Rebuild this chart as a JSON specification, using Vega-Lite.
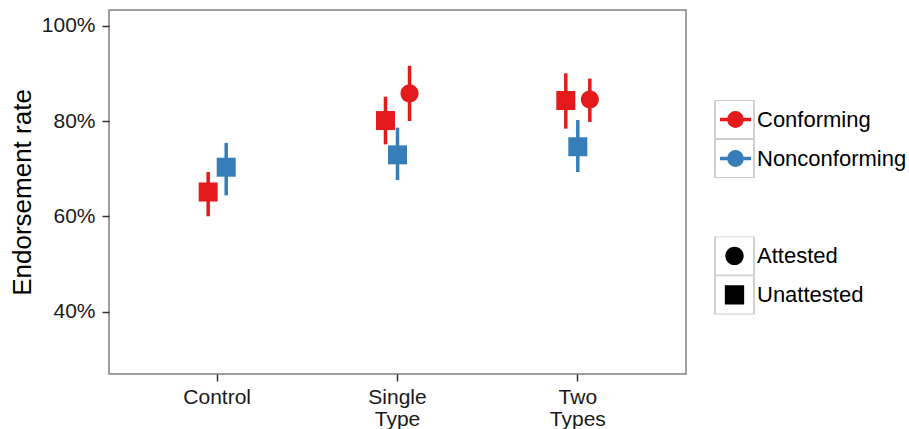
{
  "$schema": "https://vega.github.io/schema/vega-lite/v6.json",
  "width": 577,
  "height": 364,
  "autosize": {"type": "none"},
  "padding": {"left": 109, "top": 10, "right": 223, "bottom": 55},
  "background": "white",
  "config": {
    "font": "Liberation Sans",
    "view": {"stroke": "#7f7f7f", "strokeWidth": 1.5},
    "axis": {
      "grid": false,
      "domain": false,
      "tickColor": "#333333",
      "tickWidth": 1.5,
      "tickSize": 7,
      "labelFont": "Liberation Sans",
      "labelFontSize": 21,
      "labelColor": "#1a1a1a",
      "titleFont": "Liberation Sans",
      "titleFontSize": 26,
      "titleFontWeight": "normal",
      "titleColor": "black"
    },
    "legend": {"padding": 0, "rowPadding": 0, "clipHeight": 39, "labelFont": "Liberation Sans", "labelFontSize": 22, "labelColor": "black", "labelOffset": 5}
  },
  "data": {
    "values": [
      {"cond": "Control", "conf": "Conforming", "attest": "Unattested", "grp": "Conforming Unattested", "rate": 0.651, "lo": 0.600, "hi": 0.693},
      {"cond": "Control", "conf": "Nonconforming", "attest": "Unattested", "grp": "Nonconforming Unattested", "rate": 0.703, "lo": 0.644, "hi": 0.754},
      {"cond": "Single Type", "conf": "Conforming", "attest": "Unattested", "grp": "Conforming Unattested", "rate": 0.801, "lo": 0.751, "hi": 0.851},
      {"cond": "Single Type", "conf": "Nonconforming", "attest": "Unattested", "grp": "Nonconforming Unattested", "rate": 0.729, "lo": 0.676, "hi": 0.786},
      {"cond": "Single Type", "conf": "Conforming", "attest": "Attested", "grp": "Conforming Attested", "rate": 0.858, "lo": 0.800, "hi": 0.916},
      {"cond": "Two Types", "conf": "Conforming", "attest": "Unattested", "grp": "Conforming Unattested", "rate": 0.843, "lo": 0.784, "hi": 0.900},
      {"cond": "Two Types", "conf": "Nonconforming", "attest": "Unattested", "grp": "Nonconforming Unattested", "rate": 0.746, "lo": 0.693, "hi": 0.802},
      {"cond": "Two Types", "conf": "Conforming", "attest": "Attested", "grp": "Conforming Attested", "rate": 0.845, "lo": 0.798, "hi": 0.889}
    ]
  },
  "encoding": {
    "x": {
      "field": "cond",
      "type": "nominal",
      "scale": {"domain": ["Control", "Single Type", "Two Types"], "paddingInner": 0.8, "paddingOuter": 0.5},
      "axis": {"title": null, "labelExpr": "split(datum.label, ' ')", "labelAngle": 0, "labelPadding": 5, "labelLineHeight": 22}
    },
    "color": {
      "field": "conf",
      "type": "nominal",
      "scale": {"domain": ["Conforming", "Nonconforming"], "range": ["#E41A1C", "#377EB8"]},
      "legend": {
        "title": null,
        "orient": "none",
        "legendX": 605,
        "legendY": 90,
        "labelOffset": 0,
        "symbolType": "M -0.956 -0.956 M 0.956 0.956 M -0.795 0 L 0.795 0 M 0.34 0 A 0.34 0.34 0 1 1 -0.34 0 A 0.34 0.34 0 1 1 0.34 0 Z",
        "symbolSize": 1521,
        "symbolStrokeWidth": 3.5,
        "encode": {
          "symbols": {"update": {"fill": {"scale": "color", "field": "value"}, "stroke": {"scale": "color", "field": "value"}, "strokeWidth": {"value": 3.5}, "opacity": {"value": 1}, "size": {"value": 1521}}}
        }
      }
    }
  },
  "layer": [
    {
      "transform": [{"filter": "datum.cond === 'Control'"}],
      "mark": {"type": "rule", "strokeWidth": 3.5},
      "encoding": {
        "xOffset": {"field": "grp", "type": "nominal", "scale": {"type": "band", "domain": ["Conforming Unattested", "Nonconforming Unattested"], "paddingInner": 0, "paddingOuter": 0}},
        "y": {"field": "lo", "type": "quantitative", "scale": {"domain": [0.269, 1.033], "nice": false, "zero": false}, "axis": {"title": "Endorsement rate", "values": [0.4, 0.6, 0.8, 1.0], "format": ".0%", "labelPadding": 7, "titlePadding": 6}},
        "y2": {"field": "hi"},
        "opacity": {"field": "conf", "type": "nominal", "scale": {"type": "ordinal", "domain": ["Nonconforming", "Conforming"], "range": [1, 1]},
          "legend": {
            "title": null, "orient": "none", "legendX": 605, "legendY": 90,
            "symbolType": "square", "symbolSize": 1521, "labelExpr": "''",
            "encode": {"symbols": {"update": {"fill": {"value": "transparent"}, "stroke": {"value": "#cccccc"}, "strokeWidth": {"value": 1.8}, "size": {"value": 1521}, "shape": {"value": "square"}}}}
          }
        }
      }
    },
    {
      "transform": [{"filter": "datum.cond === 'Control'"}],
      "mark": {"type": "point", "filled": true, "opacity": 1, "size": 1473},
      "encoding": {
        "xOffset": {"field": "grp", "type": "nominal", "scale": {"type": "band", "domain": ["Conforming Unattested", "Nonconforming Unattested"], "paddingInner": 0, "paddingOuter": 0}},
        "y": {"field": "rate", "type": "quantitative"},
        "shape": {"field": "attest", "type": "nominal",
          "scale": {"domain": ["Attested", "Unattested"], "range": ["M -1.046 -1.046 M 1.046 1.046 M 0.47 0 A 0.47 0.47 0 1 1 -0.47 0 A 0.47 0.47 0 1 1 0.47 0 Z", "M -1.046 -1.046 M 1.046 1.046 M -0.495 -0.495 L 0.495 -0.495 L 0.495 0.495 L -0.495 0.495 Z"]},
          "legend": {
            "title": null,
            "orient": "none",
            "legendX": 605,
            "legendY": 226.4,
            "labelOffset": 2,
            "symbolSize": 1521,
            "encode": {
              "symbols": {"update": {
                "fill": {"value": "black"},
                "stroke": {"value": "transparent"},
                "strokeWidth": {"value": 0},
                "opacity": {"value": 1},
                "size": {"value": 1521}
              }}
            }
          }
        }
      }
    },
    {
      "transform": [{"filter": "datum.cond !== 'Control'"}],
      "mark": {"type": "rule", "strokeWidth": 3.5},
      "encoding": {
        "xOffset": {"field": "grp", "type": "nominal", "scale": {"type": "band", "domain": ["Conforming Unattested", "Nonconforming Unattested", "Conforming Attested"], "paddingInner": 0, "paddingOuter": 0}},
        "y": {"field": "lo", "type": "quantitative"},
        "y2": {"field": "hi"},
        "opacity": {"field": "attest", "type": "nominal", "scale": {"type": "ordinal", "domain": ["Unattested", "Attested"], "range": [1, 1]},
          "legend": {
            "title": null, "orient": "none", "legendX": 605, "legendY": 226.4,
            "symbolType": "square", "symbolSize": 1521, "labelExpr": "''",
            "encode": {"symbols": {"update": {"fill": {"value": "transparent"}, "stroke": {"value": "#cccccc"}, "strokeWidth": {"value": 1.8}, "size": {"value": 1521}, "shape": {"value": "square"}}}}
          }
        }
      }
    },
    {
      "transform": [{"filter": "datum.cond !== 'Control'"}],
      "mark": {"type": "point", "filled": true, "opacity": 1, "size": 1473},
      "encoding": {
        "xOffset": {"field": "grp", "type": "nominal", "scale": {"type": "band", "domain": ["Conforming Unattested", "Nonconforming Unattested", "Conforming Attested"], "paddingInner": 0, "paddingOuter": 0}},
        "y": {"field": "rate", "type": "quantitative"},
        "shape": {"field": "attest", "type": "nominal",
          "scale": {"domain": ["Attested", "Unattested"], "range": ["M -1.046 -1.046 M 1.046 1.046 M 0.47 0 A 0.47 0.47 0 1 1 -0.47 0 A 0.47 0.47 0 1 1 0.47 0 Z", "M -1.046 -1.046 M 1.046 1.046 M -0.495 -0.495 L 0.495 -0.495 L 0.495 0.495 L -0.495 0.495 Z"]},
          "legend": {
            "title": null,
            "orient": "none",
            "legendX": 605,
            "legendY": 226.4,
            "labelOffset": 2,
            "symbolSize": 1521,
            "encode": {
              "symbols": {"update": {
                "fill": {"value": "black"},
                "stroke": {"value": "transparent"},
                "strokeWidth": {"value": 0},
                "opacity": {"value": 1},
                "size": {"value": 1521}
              }}
            }
          }
        }
      }
    }
  ],
  "resolve": {"scale": {"xOffset": "independent", "opacity": "independent"}, "legend": {"opacity": "independent"}}
}
